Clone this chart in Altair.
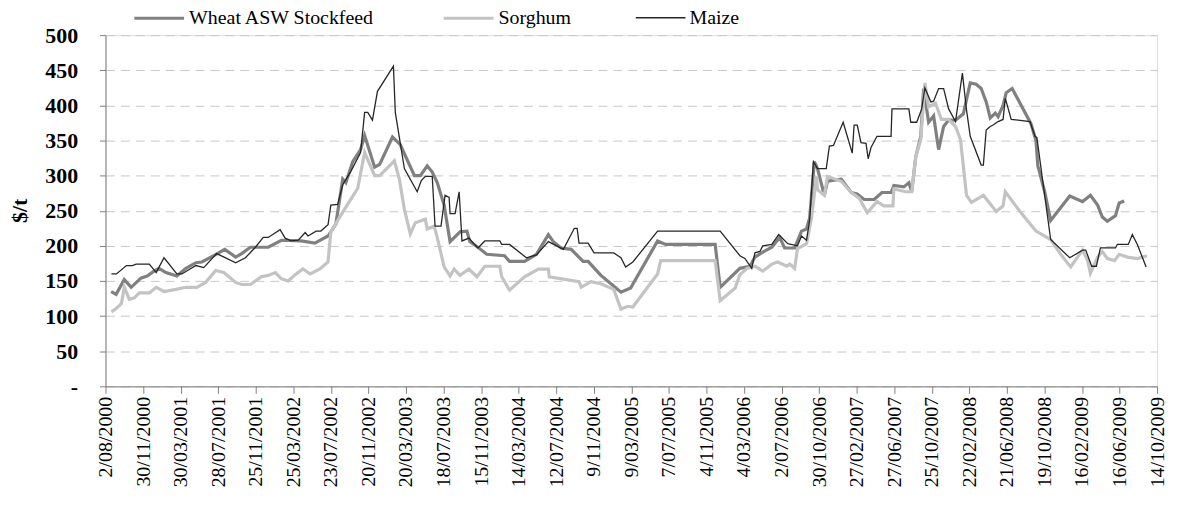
import altair as alt
import pandas as pd

start_date = "2000-08-02"

tick_dates = ["2000-08-02", "2000-11-30", "2001-03-30", "2001-07-28", "2001-11-25",
              "2002-03-25", "2002-07-23", "2002-11-20", "2003-03-20", "2003-07-18",
              "2003-11-15", "2004-03-14", "2004-07-12", "2004-11-09", "2005-03-09",
              "2005-07-07", "2005-11-04", "2006-03-04", "2006-07-02", "2006-10-30",
              "2007-02-27", "2007-06-27", "2007-10-25", "2008-02-22", "2008-06-21",
              "2008-10-19", "2009-02-16", "2009-06-16", "2009-10-14"]
y_ticks = [0, 50, 100, 150, 200, 250, 300, 350, 400, 450, 500]

series_names = ["Wheat ASW Stockfeed", "Sorghum", "Maize"]
series_colors = ["#808080", "#c3c3c3", "#262626"]
series_widths = [3.2, 3.2, 1.3]

# days since 2 Aug 2000, and $/t
wheat_days = [18, 34, 60, 82, 113, 133, 155, 171, 193, 228, 257, 289, 308, 346, 381, 416, 435, 463,
              520, 562, 625, 669, 711, 736, 758, 768, 790, 815, 828, 860, 876, 917, 942, 987, 1006,
              1028, 1044, 1060, 1082, 1101, 1133, 1155, 1164, 1193, 1218, 1275, 1291, 1339, 1377,
              1415, 1431, 1456, 1488, 1526, 1542, 1583, 1615, 1647, 1678, 1764, 1790, 1948, 1964,
              2027, 2059, 2075, 2100, 2129, 2154, 2170, 2202, 2224, 2240, 2250, 2265, 2275, 2297,
              2307, 2351, 2383, 2402, 2424, 2456, 2481, 2510, 2519, 2551, 2567, 2576, 2589, 2605,
              2614, 2630, 2646, 2662, 2678, 2694, 2716, 2741, 2763, 2782, 2798, 2814, 2827, 2843,
              2852, 2868, 2878, 2897, 2957, 2973, 2979, 3001, 3020, 3081, 3122, 3147, 3170, 3185,
              3201, 3227, 3239, 3255]
wheat_price = [135, 131, 152, 141, 154, 157, 164, 168, 162, 157, 168, 176, 177, 186, 195, 184, 189, 198,
               198, 208, 207, 204, 214, 231, 295, 290, 320, 337, 357, 312, 316, 355, 344, 300, 300,
               314, 305, 290, 258, 206, 220, 221, 206, 197, 188, 186, 178, 178, 188,
               216, 206, 197, 195, 178, 178, 158, 146, 134, 140, 207, 202, 202, 141,
               168, 171, 184, 191, 198, 212, 197, 197, 221, 224, 240, 320, 310, 272,
               292, 295, 276, 274, 266, 266, 276, 276, 286, 284, 290, 277, 327, 356,
               424, 376, 385, 337, 370, 379, 379, 388, 432, 430, 424, 405, 382, 389,
               384, 400, 418, 424, 374, 350, 314, 277, 236, 271, 263, 272, 258, 241,
               235, 243, 261, 264]

sorghum_days = [19, 35, 51, 60, 76, 92, 108, 140, 162, 187, 225, 257, 292, 320, 352, 378, 416, 435,
                463, 498, 520, 543, 562, 584, 606, 631, 654, 685, 711, 720, 765, 806, 828, 860, 876,
                923, 939, 955, 974, 990, 1022, 1028, 1050, 1060, 1082, 1101, 1114, 1133, 1161, 1187,
                1212, 1260, 1266, 1291, 1339, 1383, 1415, 1418, 1513, 1520, 1551, 1583, 1624, 1647,
                1669, 1685, 1764, 1774, 1948, 1964, 2012, 2027, 2050, 2075, 2100, 2129, 2148, 2177,
                2186, 2202, 2211, 2240, 2256, 2272, 2275, 2297, 2307, 2351, 2383, 2408, 2434, 2465,
                2487, 2516, 2519, 2557, 2576, 2589, 2605, 2618, 2630, 2652, 2671, 2694, 2716, 2732,
                2751, 2767, 2805, 2821, 2846, 2868, 2875, 2922, 2973, 3020, 3052, 3084, 3122, 3138,
                3147, 3170, 3185, 3201, 3224, 3239, 3265, 3297, 3328]
sorghum_price = [106, 111, 118, 141, 124, 126, 133, 133, 141, 135, 138, 141, 141, 148, 165, 162, 148, 145,
                 145, 156, 158, 162, 153, 150, 159, 167, 160, 167, 177, 220, 253, 282, 333, 300, 300,
                 321, 295, 252, 217, 233, 238, 224, 228, 212, 170, 157, 167, 158, 167, 156,
                 171, 171, 156, 137, 156, 167, 167, 156, 149, 141, 149, 146, 138, 110,
                 114, 113, 160, 179, 179, 122, 140, 159, 168, 171, 164, 174, 177, 171,
                 174, 168, 196, 203, 240, 299, 280, 272, 299, 292, 276, 268, 247, 263,
                 257, 257, 281, 277, 277, 327, 351, 432, 398, 403, 380, 380, 370, 351,
                 272, 262, 272, 263, 249, 257, 277, 249, 221, 209, 188, 170, 194, 179,
                 161, 184, 192, 182, 179, 188, 184, 182, 186]

maize_days = [19, 35, 67, 86, 98, 140, 162, 187, 228, 244, 289, 314, 355, 384, 416, 447, 479, 504, 520,
              558, 574, 593, 616, 638, 647, 673, 688, 711, 720, 742, 758, 784, 815, 828, 838, 853, 869,
              920, 926, 955, 996, 1009, 1022, 1044, 1053, 1072, 1085, 1098, 1101, 1117, 1130, 1139,
              1161, 1190, 1212, 1260, 1266, 1291, 1345, 1377, 1415, 1463, 1498, 1507, 1513, 1542,
              1561, 1624, 1647, 1662, 1685, 1764, 1964, 2027, 2043, 2065, 2075, 2091, 2100, 2129,
              2151, 2180, 2211, 2224, 2240, 2250, 2262, 2275, 2303, 2313, 2326, 2357, 2386, 2392,
              2402, 2414, 2430, 2437, 2446, 2465, 2510, 2513, 2567, 2573, 2592, 2608, 2618, 2637,
              2646, 2662, 2678, 2694, 2716, 2738, 2751, 2763, 2798, 2805, 2814, 2827, 2836, 2852,
              2868, 2875, 2894, 2954, 2970, 2976, 3020, 3081, 3122, 3132, 3151, 3166, 3179, 3227,
              3233, 3268, 3281, 3297, 3325]
maize_price = [160, 160, 172, 172, 174, 174, 162, 183, 160, 160, 172, 169, 189, 183, 176, 183, 198, 212, 212,
               223, 211, 207, 208, 219, 214, 221, 221, 230, 258, 259, 287, 306, 333, 390, 390, 379, 420,
               456, 390, 310, 277, 293, 299, 299, 228, 228, 272, 269, 246, 246, 277, 207,
               211, 197, 207, 207, 202, 202, 183, 187, 206, 195, 225, 225, 204, 204,
               190, 190, 183, 170, 177, 221, 221, 186, 182, 168, 190, 192, 200, 202,
               216, 203, 200, 214, 208, 237, 320, 310, 310, 342, 343, 376, 332, 372,
               372, 347, 346, 324, 340, 356, 356, 395, 395, 376, 376, 395, 425, 405,
               406, 424, 424, 395, 377, 446, 394, 356, 315, 315, 365, 370, 372, 377,
               380, 410, 380, 377, 356, 354, 209, 183, 194, 194, 171, 171, 197, 197,
               202, 202, 216, 202, 170]

series_data = [wheat_days, sorghum_days, maize_days]
series_prices = [wheat_price, sorghum_price, maize_price]

base = pd.Timestamp(start_date)

def ms(s):
    return int(pd.Timestamp(s).value // 10**6)

tick_ms = [ms(t) for t in tick_dates]

font = "Liberation Serif, Times New Roman, DejaVu Serif, serif"

legend_def = alt.Legend(title=None, orient="none", legendX=27, legendY=-44,
                        direction="horizontal", symbolType="stroke",
                        symbolSize=2500, labelLimit=400,
                        labelFont=font, labelFontSize=20, labelColor="#000000",
                        labelOffset=3, columnPadding=62)

x_enc = alt.X("date:T",
              scale=alt.Scale(type="utc", domain=[tick_ms[0], tick_ms[-1]], nice=False),
              axis=alt.Axis(values=tick_ms, title=None, grid=False,
                            labelExpr="utcFormat(datum.value, '%-d/%m/%Y')",
                            labelAngle=270, labelFont=font, labelFontSize=20,
                            labelColor="#000000", labelPadding=3, tickSize=7,
                            tickColor="#7f7f7f", domainColor="#7f7f7f",
                            labelOverlap=False, labelBound=False, labelFlush=False))
y_enc = alt.Y("price:Q",
              scale=alt.Scale(domain=[0, 500], nice=False, zero=True),
              axis=alt.Axis(values=y_ticks, title="$/t", titleFont=font, titleFontSize=22,
                            titleFontWeight="bold", titleColor="#000000",
                            titleAngle=270, titleX=-74, titleY=176, titleAlign="center",
                            titleBaseline="bottom",
                            labelExpr="datum.value == 0 ? '-\u00a0\u00a0\u00a0\u00a0\u00a0\u00a0\u00a0' : datum.label",
                            labelFont=font, labelFontSize=22, labelFontWeight="bold",
                            labelColor="#000000", labelPadding=22, tickSize=6,
                            tickColor="#7f7f7f", domainColor="#7f7f7f",
                            gridColor="#c8c8c8", gridDash=[9, 6], gridWidth=1))
color_enc = alt.Color("series:N",
                      scale=alt.Scale(domain=series_names, range=series_colors),
                      legend=legend_def)
width_enc = alt.StrokeWidth("series:N",
                            scale=alt.Scale(type="ordinal", domain=series_names,
                                            range=series_widths),
                            legend=legend_def)

layers = []
for name, days, prices in zip(series_names, series_data, series_prices):
    sdf = pd.DataFrame({
        "date": [(base + pd.Timedelta(days=d)).strftime("%Y-%m-%d") for d in days],
        "series": name,
        "price": prices,
    })
    layers.append(
        alt.Chart(sdf).mark_line(strokeJoin="miter").encode(
            x=x_enc, y=y_enc, color=color_enc, strokeWidth=width_enc,
            order=alt.Order("date:T"))
    )

chart = alt.layer(*layers).properties(
    width=1057, height=353,
    autosize=alt.AutoSizeParams(type="none"),
    padding={"left": 98, "top": 26, "right": 13, "bottom": 120},
).configure_view(stroke=None).configure(background="#ffffff")

chart.save("out.html", embed_options={"renderer": "svg", "actions": False})
